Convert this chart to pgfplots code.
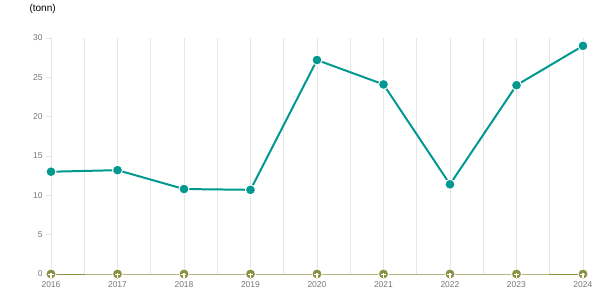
\documentclass[border=0pt]{standalone}
\usepackage{pgfplots}
\pgfplotsset{compat=1.18}
\usepackage{fontspec}
\setmainfont{Liberation Sans}
\definecolor{teal1}{RGB}{0,152,143}
\definecolor{olive1}{RGB}{138,144,64}
\definecolor{gridc}{RGB}{230,230,230}
\definecolor{tickc}{RGB}{120,120,120}
\begin{document}
\begin{tikzpicture}[x=1bp,y=1bp]
\path[use as bounding box] (-51bp,-31bp) rectangle (564bp,274bp);
\node[anchor=west,font=\fontsize{10bp}{12bp}\selectfont] at (-25bp,265bp) {(tonn)};
\begin{axis}[
  at={(0,0)}, anchor=south west,
  scale only axis, width=532bp, height=236bp,
  xmin=2016, xmax=2024, ymin=0, ymax=30,
  clip=false,
  axis y line*=left,
  axis x line*=bottom,
  y axis line style={gridc, line width=0.8pt},
  x axis line style={draw=none},
  ytick={0,5,...,30},
  xtick={2016,...,2024},
  minor xtick={2016.5,2017.5,...,2023.5},
  xmajorgrids, xminorgrids,
  major grid style={gridc, line width=0.8pt},
  minor grid style={gridc, line width=0.8pt},
  major tick length=5bp,
  y tick style={gridc, line width=0.8pt},
  x tick style={draw=none},
  tick align=outside,
  xticklabel style={/pgf/number format/1000 sep={}, font=\fontsize{8.5bp}{10bp}\selectfont, text=tickc, yshift=1bp},
  yticklabel style={font=\fontsize{8.5bp}{10bp}\selectfont, text=tickc},
  /pgf/number format/assume math mode=true,
]
\addplot[olive1, line width=1pt, mark=*, mark size=5bp, mark options={fill=olive1, draw=white, line width=0.8pt}]
 coordinates {(2016,0)(2017,0)(2018,0)(2019,0)(2020,0)(2021,0)(2022,0)(2023,0)(2024,0)};
\addplot[only marks, white, mark=|, mark size=2.5bp, mark options={line width=1.2pt, yshift=-1.5bp}]
 coordinates {(2016,0)(2017,0)(2018,0)(2019,0)(2020,0)(2021,0)(2022,0)(2023,0)(2024,0)};
\addplot[only marks, white, mark=-, mark size=2.5bp, mark options={line width=1pt}]
 coordinates {(2016,0)(2017,0)(2018,0)(2019,0)(2020,0)(2021,0)(2022,0)(2023,0)(2024,0)};
\addplot[teal1, line width=2pt, mark=*, mark size=5bp, mark options={fill=teal1, draw=white, line width=1pt}]
 coordinates {(2016,13.0)(2017,13.2)(2018,10.8)(2019,10.7)(2020,27.2)(2021,24.1)(2022,11.4)(2023,24.0)(2024,29.0)};
\end{axis}
\end{tikzpicture}
\end{document}
